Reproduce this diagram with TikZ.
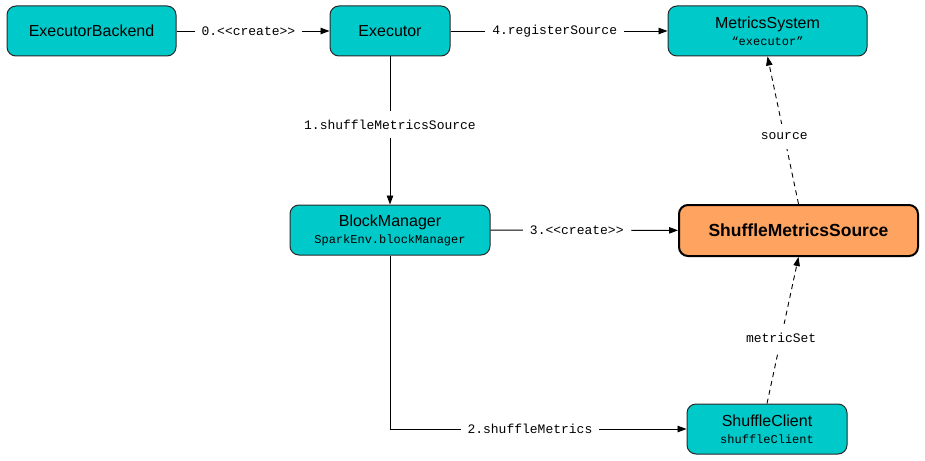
\documentclass[tikz,border=0pt]{standalone}
\usepackage{fontspec}
\setmainfont{Liberation Sans}
\setmonofont{Liberation Mono}
\usetikzlibrary{arrows.meta}
\definecolor{boxcyan}{RGB}{0,201,201}
\definecolor{boxorange}{RGB}{255,164,96}
\definecolor{boxline}{RGB}{40,40,40}
\begin{document}
\begin{tikzpicture}[x=1pt,y=-1pt,
  box/.style={draw=boxline, line width=1pt, fill=boxcyan, rounded corners=9pt,
    inner sep=0pt, align=center, minimum height=50pt, font=\fontsize{16}{17}\selectfont},
  hot/.style={box, fill=boxorange, draw=black, line width=2pt,
    font=\fontsize{17.5}{20}\selectfont\bfseries},
  conn/.style={draw=black, line width=0.9pt, -{Triangle[length=9pt,width=6.5pt]}},
  dconn/.style={conn, dash pattern=on 5pt off 4pt},
  lbl/.style={fill=white, font=\fontsize{13}{15}\selectfont\ttfamily,
    inner xsep=7pt, inner ysep=9pt}]
\useasboundingbox (0,0) rectangle (925,460);
\fill[white] (0,0) rectangle (925,460);

\node[box, minimum width=169pt] (eb) at (91.5,31) {ExecutorBackend};
\node[box, minimum width=120pt] (ex) at (390,31) {Executor};
\node[box, minimum width=199pt] (ms) at (767.5,31)
  {MetricsSystem\\{\fontsize{12}{17}\selectfont\ttfamily “executor”}};
\node[box, minimum width=200pt] (bm) at (390,230)
  {BlockManager\\{\fontsize{12}{17}\selectfont\ttfamily SparkEnv.blockManager}};
\node[hot, minimum width=239pt, minimum height=51pt] (sms) at (798.5,230.5) {ShuffleMetricsSource};
\node[box, minimum width=160pt] (sc) at (767,429)
  {ShuffleClient\\{\fontsize{12}{17}\selectfont\ttfamily shuffleClient}};

\draw[conn] (eb) -- node[lbl, pos=0.47] {0.<<create>>} (ex);
\draw[conn] (ex) -- node[lbl, pos=0.48] {4.registerSource} (ms);
\draw[conn] (ex) -- node[lbl, pos=0.46] {1.shuffleMetricsSource} (bm);
\draw[conn] (bm) -- node[lbl, pos=0.46] {3.<<create>>} (sms);
\draw[conn] (bm.south) |- node[lbl, pos=0.736] {2.shuffleMetrics} (sc.west);
\draw[dconn] (sms.north) -- node[lbl, pos=0.46] {source} (ms.south);
\draw[dconn] (sc.north) -- node[lbl, pos=0.45] {metricSet} (sms.south);
\end{tikzpicture}
\end{document}
